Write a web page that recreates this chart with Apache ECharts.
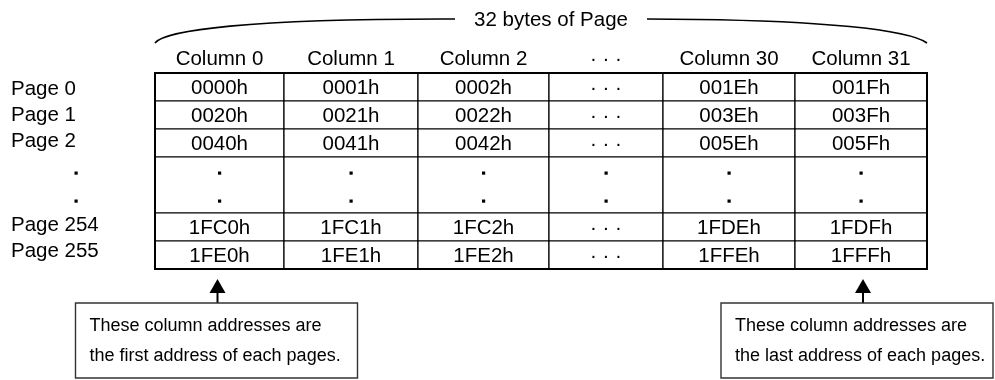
<!DOCTYPE html>
<html><head><meta charset="utf-8">
<style>html,body{margin:0;padding:0;background:#fff}#c{width:995px;height:380px}</style>
<script src="https://cdn.jsdelivr.net/npm/echarts@6/dist/echarts.min.js"></script>
</head><body><div id="c"></div>
<script>
// ---- data ----
const title = '32 bytes of Page';
const columns = ['Column 0', 'Column 1', 'Column 2', '· · ·', 'Column 30', 'Column 31'];
const pages = ['Page 0', 'Page 1', 'Page 2', '.', '.', 'Page 254', 'Page 255'];
const page0 = ['0000h', '0001h', '0002h', '· · ·', '001Eh', '001Fh'];
const page1 = ['0020h', '0021h', '0022h', '· · ·', '003Eh', '003Fh'];
const page2 = ['0040h', '0041h', '0042h', '· · ·', '005Eh', '005Fh'];
const pageDots = [':', ':', ':', ':', ':', ':'];
const page254 = ['1FC0h', '1FC1h', '1FC2h', '· · ·', '1FDEh', '1FDFh'];
const page255 = ['1FE0h', '1FE1h', '1FE2h', '· · ·', '1FFEh', '1FFFh'];
const tableRows = [page0, page1, page2, pageDots, page254, page255];
const noteFirst = ['These column addresses are', 'the first address of each pages.'];
const noteLast = ['These column addresses are', 'the last address of each pages.'];
const notes = [noteFirst, noteLast];
const noteColumns = [0, 5];

// ---- layout ----
const FONT = '"Liberation Sans", Arial, sans-serif';
const FS = 20.5;
const colW = [129, 134, 131, 114, 132, 132];
const colEdge = [0];
colW.forEach(w => colEdge.push(colEdge[colEdge.length - 1] + w));
const rowEdge = [0, 1, 2, 3, 5, 6, 7]; // dots row spans two slots
const labelDy = [1, -0.5, -3, 2, 2, -2.5, -5];
const totalW = colEdge[colEdge.length - 1];
const noteBox = [{ dx: -142, w: 282 }, { dx: -142, w: 272 }];

const cellData = [];
tableRows.forEach((row, r) => row.forEach((t, c) => cellData.push([c, r])));

function dot(x, y) {
  return { type: 'rect', shape: { x: x - 1.5, y: y - 1.5, width: 3.2, height: 3.2 }, style: { fill: '#000' } };
}

const chart = echarts.init(document.getElementById('c'), null, { renderer: 'canvas' });
chart.setOption({
  animation: false,
  backgroundColor: '#fff',
  grid: { left: 155, top: 73, width: totalW, height: 196, show: true, borderColor: '#000', borderWidth: 2, backgroundColor: 'transparent', z: 10 },
  xAxis: { type: 'value', min: 0, max: totalW, show: false },
  yAxis: { type: 'value', min: 0, max: 7, inverse: true, show: false },
  series: [
    { // table cells
      type: 'custom', z: 2, data: cellData,
      renderItem(params, api) {
        const c = api.value(0), r = api.value(1);
        const p0 = api.coord([colEdge[c], rowEdge[r]]);
        const p1 = api.coord([colEdge[c + 1], rowEdge[r + 1]]);
        const text = tableRows[r][c];
        const children = [{ type: 'rect', shape: { x: p0[0], y: p0[1], width: p1[0] - p0[0], height: p1[1] - p0[1] }, style: { fill: '#fff', stroke: '#000', lineWidth: 1.2 } }];
        const cx = (p0[0] + p1[0]) / 2;
        if (text === ':') {
          for (let s = rowEdge[r]; s < rowEdge[r + 1]; s++) {
            const yc = api.coord([0, s + 0.5])[1];
            children.push(dot(cx, yc + 2));
          }
        } else {
          children.push({ type: 'text', style: { x: cx, y: (p0[1] + p1[1]) / 2 + 1, text, align: 'center', verticalAlign: 'middle', fontSize: FS, fontFamily: FONT, fill: '#000' } });
        }
        return { type: 'group', children };
      }
    },
    { // column headers
      type: 'custom', z: 3, data: columns.map((t, c) => [c]),
      renderItem(params, api) {
        const c = api.value(0);
        const x = api.coord([(colEdge[c] + colEdge[c + 1]) / 2, 0]);
        return { type: 'text', style: { x: x[0], y: x[1] - 14, text: columns[c], align: 'center', verticalAlign: 'middle', fontSize: FS, fontFamily: FONT, fill: '#000' } };
      }
    },
    { // page labels
      type: 'custom', z: 3, data: pages.map((t, r) => [r]),
      renderItem(params, api) {
        const r = api.value(0);
        const p = api.coord([0, r + 0.5]);
        const y = p[1] + labelDy[r];
        if (pages[r] === '.') return dot(p[0] - 79, y);
        return { type: 'text', style: { x: p[0] - 144, y: y + 1, text: pages[r], align: 'left', verticalAlign: 'middle', fontSize: FS, fontFamily: FONT, fill: '#000' } };
      }
    },
    { // brace + title
      type: 'custom', z: 3, data: [[0]],
      renderItem(params, api) {
        const L = api.coord([0, 0])[0], R = api.coord([totalW, 0])[0], T = api.coord([0, 0])[1];
        const mid = (L + R) / 2 + 10;
        const top = T - 54;
        const path = `M ${L} ${T - 30} C ${L + 10} ${T - 43} ${L + 95} ${top} ${L + 285} ${top} L ${mid - 96} ${top}` +
          ` M ${mid + 96} ${top} L ${R - 230} ${top + 0.5} C ${R - 110} ${top + 2} ${R - 20} ${top + 10} ${R} ${T - 30}`;
        return { type: 'group', children: [
          { type: 'path', shape: { pathData: path }, style: { fill: 'none', stroke: '#000', lineWidth: 1.6 } },
          { type: 'text', style: { x: mid, y: top + 1, text: title, align: 'center', verticalAlign: 'middle', fontSize: FS, fontFamily: FONT, fill: '#000' } }
        ] };
      }
    },
    { // notes with arrows
      type: 'custom', z: 3, data: noteColumns.map((c, i) => [c, i]),
      renderItem(params, api) {
        const c = api.value(0), i = api.value(1);
        const cx = api.coord([(colEdge[c] + colEdge[c + 1]) / 2, 0])[0] + (i === 0 ? -2 : 2);
        const B = api.coord([0, 7])[1];
        const bx = cx + noteBox[i].dx, by = B + 34, bw = noteBox[i].w, bh = 75;
        return { type: 'group', children: [
          { type: 'polygon', shape: { points: [[cx, B + 10], [cx - 8, B + 24], [cx + 8, B + 24]] }, style: { fill: '#000' } },
          { type: 'line', shape: { x1: cx, y1: B + 23, x2: cx, y2: by }, style: { stroke: '#000', lineWidth: 2 } },
          { type: 'rect', shape: { x: bx, y: by, width: bw, height: bh }, style: { fill: '#fff', stroke: '#333', lineWidth: 1.4 } },
          { type: 'text', style: { x: bx + 14, y: by + 23, text: notes[i][0], align: 'left', verticalAlign: 'middle', fontSize: 18, fontFamily: FONT, fill: '#000' } },
          { type: 'text', style: { x: bx + 14, y: by + 53, text: notes[i][1], align: 'left', verticalAlign: 'middle', fontSize: 18, fontFamily: FONT, fill: '#000' } }
        ] };
      }
    }
  ]
});
</script></body></html>
